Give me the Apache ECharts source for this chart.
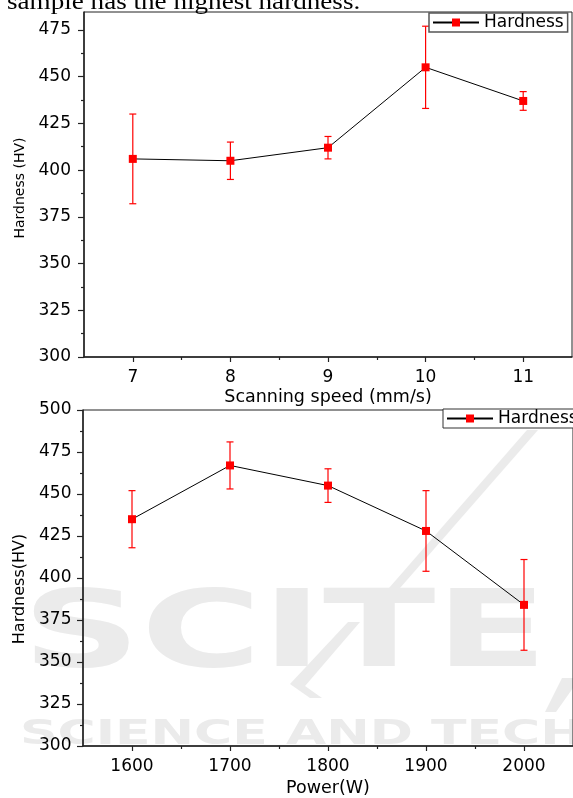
<!DOCTYPE html>
<html>
<head>
<meta charset="utf-8">
<script src="https://cdn.jsdelivr.net/npm/echarts@6/dist/echarts.min.js"></script>
<style>
html,body{margin:0;padding:0;background:#fff;}
#chart{width:573px;height:798px;}
</style>
</head>
<body>
<div id="chart"></div>
<script>
// ---- Data ----
const speedCategories = [7, 8, 9, 10, 11];
const speedHardness = [406, 405, 412, 455, 437];
const speedErrHigh = [430, 415, 418, 477, 442];
const speedErrLow = [382, 395, 406, 433, 432];

const powerCategories = [1600, 1700, 1800, 1900, 2000];
const powerHardness = [435, 467, 455, 428, 384];
const powerErrHigh = [452, 481, 465, 452, 411];
const powerErrLow = [418, 453, 445, 404, 357];

const speedTicks = [7, 8, 9, 10, 11];
const speedMinorTicks = [7.5, 8.5, 9.5, 10.5];
const powerTicks = [1600, 1700, 1800, 1900, 2000];
const powerMinorTicks = [1650, 1750, 1850, 1950];
const hardTicksTop = [300, 325, 350, 375, 400, 425, 450, 475];
const hardMinorTop = [312.5, 337.5, 362.5, 387.5, 412.5, 437.5, 462.5];
const hardTicksBottom = [300, 325, 350, 375, 400, 425, 450, 475, 500];
const hardMinorBottom = [312.5, 337.5, 362.5, 387.5, 412.5, 437.5, 462.5, 487.5];

const FONT = 'DejaVu Sans';
const AXIS_COLOR = '#222';
const plain = v => String(v);

function mainX(grid, min, max, ticks, name, nameGap, labelMargin) {
  return {
    type: 'value', gridIndex: grid, position: 'bottom', min: min, max: max,
    name: name, nameLocation: 'middle', nameGap: nameGap,
    nameTextStyle: {fontFamily: FONT, fontSize: 17.5, color: '#000'},
    axisLine: {show: true, onZero: false, lineStyle: {color: AXIS_COLOR, width: 1.5}},
    axisTick: {show: true, inside: false, length: 5, customValues: ticks, lineStyle: {color: AXIS_COLOR, width: 1.2}},
    axisLabel: {show: true, customValues: ticks, formatter: plain, margin: labelMargin, fontFamily: FONT, fontSize: 17, color: '#000'},
    splitLine: {show: false}
  };
}
function minorX(grid, min, max, ticks) {
  return {
    type: 'value', gridIndex: grid, position: 'bottom', min: min, max: max,
    axisLine: {show: false, onZero: false},
    axisTick: {show: true, inside: false, length: 3, customValues: ticks, lineStyle: {color: AXIS_COLOR, width: 1.2}},
    axisLabel: {show: false},
    splitLine: {show: false}
  };
}
function mainY(grid, min, max, ticks, name, nameGap, nameSize, pad, labelMargin) {
  return {
    type: 'value', gridIndex: grid, position: 'left', min: min, max: max, interval: 25,
    name: name, nameLocation: 'middle', nameGap: nameGap,
    nameTextStyle: {fontFamily: FONT, fontSize: nameSize, color: '#000', padding: pad},
    axisLine: {show: true, onZero: false, lineStyle: {color: AXIS_COLOR, width: 1.5}},
    axisTick: {show: true, inside: false, length: 6, customValues: ticks, lineStyle: {color: AXIS_COLOR, width: 1.2}},
    axisLabel: {show: true, customValues: ticks, formatter: plain, margin: labelMargin, fontFamily: FONT, fontSize: 17, color: '#000'},
    splitLine: {show: false}
  };
}
function minorY(grid, min, max, ticks) {
  return {
    type: 'value', gridIndex: grid, position: 'left', min: min, max: max, interval: 25,
    axisLine: {show: false, onZero: false},
    axisTick: {show: true, inside: false, length: 3, customValues: ticks, lineStyle: {color: AXIS_COLOR, width: 1.2}},
    axisLabel: {show: false},
    splitLine: {show: false}
  };
}

function errorBarRender(params, api) {
  const x = api.value(0);
  const hi = api.coord([x, api.value(1)]);
  const lo = api.coord([x, api.value(2)]);
  const w = 3.5;
  const style = {stroke: '#ff0000', lineWidth: 1.2};
  return {
    type: 'group',
    children: [
      {type: 'line', shape: {x1: hi[0], y1: hi[1], x2: lo[0], y2: lo[1]}, style: style},
      {type: 'line', shape: {x1: hi[0] - w, y1: hi[1], x2: hi[0] + w, y2: hi[1]}, style: style},
      {type: 'line', shape: {x1: lo[0] - w, y1: lo[1], x2: lo[0] + w, y2: lo[1]}, style: style}
    ]
  };
}

const speedLine = speedCategories.map((c, i) => [c, speedHardness[i]]);
const speedErr = speedCategories.map((c, i) => [c, speedErrHigh[i], speedErrLow[i]]);
const powerLine = powerCategories.map((c, i) => [c, powerHardness[i]]);
const powerErr = powerCategories.map((c, i) => [c, powerErrHigh[i], powerErrLow[i]]);

const WM = '#ebebeb';

const option = {
  animation: false,
  backgroundColor: '#fff',
  textStyle: {fontFamily: FONT},
  grid: [
    {left: 84, top: 12, width: 488, height: 345, show: true, borderColor: '#222', borderWidth: 1, backgroundColor: 'transparent'},
    {left: 83, top: 410, width: 492, height: 338, show: true, borderColor: '#222', borderWidth: 1, backgroundColor: 'transparent'}
  ],
  xAxis: [
    mainX(0, 6.5, 11.5, speedTicks, 'Scanning speed (mm/s)', 31, 12),
    minorX(0, 6.5, 11.5, speedMinorTicks),
    mainX(1, 1550, 2050, powerTicks, 'Power(W)', 33, 12),
    minorX(1, 1550, 2050, powerMinorTicks)
  ],
  yAxis: [
    mainY(0, 300, 484.6, hardTicksTop, 'Hardness (HV)', 55, 14, [0, 7, 0, 0], 13),
    minorY(0, 300, 484.6, hardMinorTop),
    mainY(1, 300, 500, hardTicksBottom, 'Hardness(HV)', 51, 16, [0, 22, 0, 0], 11.5),
    minorY(1, 300, 500, hardMinorBottom)
  ],
  legend: [
    {
      data: ['Hardness'], left: 429, top: 13, orient: 'horizontal',
      backgroundColor: '#fff', borderColor: '#555', borderWidth: 1.5,
      padding: [1, 4, 1, 3], itemWidth: 46, itemHeight: 10, selectedMode: false,
      textStyle: {fontFamily: FONT, fontSize: 17, color: '#000'}
    },
    {
      data: ['Hardness'], left: 443, top: 409, orient: 'horizontal',
      backgroundColor: '#fff', borderColor: '#333', borderWidth: 1,
      padding: [1, 4, 1, 3], itemWidth: 46, itemHeight: 10, selectedMode: false,
      textStyle: {fontFamily: FONT, fontSize: 17, color: '#000'}
    }
  ],
  graphic: [
    {type: 'text', left: 7, top: -9, z: 100, scaleX: 1.13,
     style: {text: 'sample has the highest hardness.', fontFamily: 'Liberation Serif', fontSize: 24, fill: '#000'}},
    {type: 'text', x: 22, y: 638, z: -10, scaleX: 1.54,
     style: {text: 'SCITE', fontFamily: FONT, fontWeight: 'bold', fontSize: 107, fill: WM, verticalAlign: 'middle', align: 'left'}},
    {type: 'text', x: 20, y: 735, z: -10, scaleX: 1.53,
     style: {text: 'SCIENCE AND TECHNOLOGY', fontFamily: FONT, fontWeight: 'bold', fontSize: 34, fill: WM, verticalAlign: 'middle', align: 'left'}},
    {type: 'polygon', z: -10, shape: {points: [[527, 430], [538, 430], [400, 588], [389, 588]]}, style: {fill: WM}},
    {type: 'polygon', z: -10, shape: {points: [[348, 622], [360, 622], [305, 686], [322, 698], [310, 698], [290, 684]]}, style: {fill: WM}},
    {type: 'polygon', z: -10, shape: {points: [[562, 678], [573, 678], [573, 688], [556, 712], [545, 712]]}, style: {fill: WM}}
  ],
  series: [
    {type: 'custom', name: 'err1', xAxisIndex: 0, yAxisIndex: 0, renderItem: errorBarRender, data: speedErr, z: 3, silent: true},
    {type: 'line', name: 'Hardness', xAxisIndex: 0, yAxisIndex: 0, data: speedLine,
     symbol: 'rect', symbolSize: 8, itemStyle: {color: '#ff0000'}, lineStyle: {color: '#000', width: 1}, z: 4},
    {type: 'custom', name: 'err2', xAxisIndex: 2, yAxisIndex: 2, renderItem: errorBarRender, data: powerErr, z: 3, silent: true},
    {type: 'line', name: 'Hardness', xAxisIndex: 2, yAxisIndex: 2, data: powerLine,
     symbol: 'rect', symbolSize: 8, itemStyle: {color: '#ff0000'}, lineStyle: {color: '#000', width: 1}, z: 4}
  ]
};

const chart = echarts.init(document.getElementById('chart'), null, {renderer: 'canvas'});
chart.setOption(option);
</script>
</body>
</html>
